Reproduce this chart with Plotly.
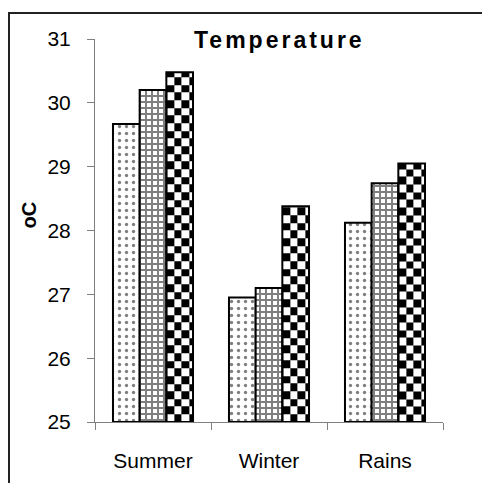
import numpy as np
import plotly.graph_objects as go

categories = ["Summer", "Winter", "Rains"]
series_a = [29.67, 26.95, 28.12]   # dotted bars
series_b = [30.20, 27.10, 28.74]   # grid bars
series_c = [30.48, 28.38, 29.05]   # checkered bars
y_ticks = [25, 26, 27, 28, 29, 30, 31]

# figure sits inside the page with the default 8px body margin
OFF = 8
W, H = 490 - OFF, 483 - OFF
L, R, T, B = 95 - OFF, 443 - OFF, 39 - OFF, 422 - OFF   # plot area in figure px
PW, PH = R - L, B - T


def px(xp):  # page x -> paper fraction
    return (xp - OFF - L) / PW


def py(yp):  # page y -> paper fraction
    return (B - (yp - OFF)) / PH


xpos = list(range(len(categories)))
bargap = 0.31
bw = (1 - bargap) / 3

fig = go.Figure()

# checkerboard fill behind the third series (heatmaps are drawn below bars)
cell_x = bw / 3.5
cell_y = 0.12
for i, v in enumerate(series_c):
    x0 = xpos[i] + bw / 2
    xe = [x0 + k * cell_x for k in range(4)] + [x0 + bw]
    ye = list(np.arange(25, v, cell_y)) + [v]
    nrows = len(ye) - 1
    z = [[(r + c) % 2 for c in range(4)] for r in range(nrows)]
    fig.add_trace(go.Heatmap(x=xe, y=ye, z=z, colorscale=[[0, "white"], [1, "black"]],
                             zmin=0, zmax=1, showscale=False, hoverinfo="skip"))

line = dict(color="black", width=2)
fig.add_trace(go.Bar(x=xpos, y=[v - 25 for v in series_a], base=25,
                     marker=dict(color="white", line=line,
                                 pattern=dict(shape=".", fgcolor="black", bgcolor="white",
                                              size=7, solidity=0.18))))
fig.add_trace(go.Bar(x=xpos, y=[v - 25 for v in series_b], base=25,
                     marker=dict(color="white", line=line,
                                 pattern=dict(shape="+", fgcolor="black", bgcolor="white",
                                              size=6, solidity=0.55))))
fig.add_trace(go.Bar(x=xpos, y=[v - 25 for v in series_c], base=25,
                     marker=dict(color="rgba(0,0,0,0)", line=line)))

font = dict(family="Arial, Liberation Sans", size=21, color="black")
fig.update_layout(
    width=W, height=H, barmode="group", bargap=bargap, bargroupgap=0,
    showlegend=False, plot_bgcolor="white", paper_bgcolor="white",
    margin=dict(l=L, r=W - R, t=T, b=H - B, pad=0),
    font=font,
    xaxis=dict(range=[-0.5, 2.5], tickmode="array", tickvals=xpos, ticktext=categories,
               ticks="", showline=True, linecolor="#808080", linewidth=1,
               showgrid=False, zeroline=False, ticklabelstandoff=20,
               minor=dict(tickmode="array", tickvals=[-0.5, 0.5, 1.5, 2.5],
                          ticks="outside", ticklen=7, tickcolor="#808080", showgrid=False)),
    yaxis=dict(range=[25, 31], tickmode="array", tickvals=y_ticks,
               ticks="outside", ticklen=7, tickcolor="#808080", showline=True,
               linecolor="#808080", linewidth=1, showgrid=False, zeroline=False,
               ticklabelstandoff=12),
    annotations=[
        dict(text="<b><span style='letter-spacing:3px'>Temperature</span></b>",
             xref="paper", yref="paper", x=px(279), y=py(40),
             xanchor="center", yanchor="middle", showarrow=False,
             font=dict(family="Arial, Liberation Sans", size=23, color="black")),
        dict(text="<b>oC</b>", xref="paper", yref="paper",
             x=px(28.5), y=py(215),
             xanchor="center", yanchor="middle", showarrow=False, textangle=-90,
             font=dict(family="Arial, Liberation Sans", size=20, color="black")),
    ],
    shapes=[dict(type="rect", xref="paper", yref="paper",
                 x0=px(9), x1=px(520), y0=py(520), y1=py(13),
                 line=dict(color="#222222", width=2), fillcolor="rgba(0,0,0,0)", layer="below")],
)

fig.write_html("out.html")
